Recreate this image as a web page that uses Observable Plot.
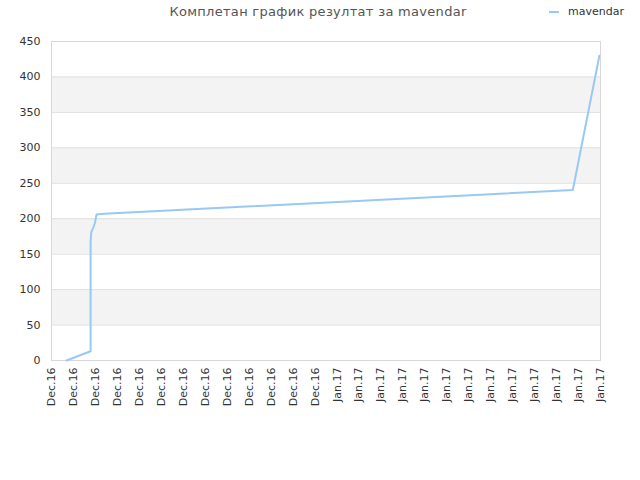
<!DOCTYPE html>
<html>
<head>
<meta charset="utf-8">
<script src="https://cdn.jsdelivr.net/npm/d3@7"></script>
<script src="https://cdn.jsdelivr.net/npm/@observablehq/plot@0.6"></script>
<style>
  html, body { margin: 0; padding: 0; background: #fff; }
  #wrap { position: relative; width: 640px; height: 480px; font-family: "DejaVu Sans", sans-serif; }
  #title { position: absolute; top: 4px; left: 0; width: 636px; text-align: center; font-size: 13px; color: #555; letter-spacing: 0.3px; }
  #legend { position: absolute; top: 5px; left: 549px; font-size: 11px; color: #333; display: flex; align-items: center; }
  #legend .sw { width: 10px; height: 2px; background: #99c8f5; margin-right: 9px; }
  #chart { position: absolute; top: 0; left: 0; }
</style>
</head>
<body>
<div id="wrap">
  <div id="chart"></div>
  <div id="title">Комплетан график резултат за mavendar</div>
  <div id="legend"><span class="sw"></span><span>mavendar</span></div>
</div>
<script>
const seriesName = "mavendar";
const xTickLabels = [
  "Dec.16","Dec.16","Dec.16","Dec.16","Dec.16","Dec.16","Dec.16","Dec.16","Dec.16","Dec.16","Dec.16","Dec.16","Dec.16",
  "Jan.17","Jan.17","Jan.17","Jan.17","Jan.17","Jan.17","Jan.17","Jan.17","Jan.17","Jan.17","Jan.17","Jan.17","Jan.17"
];
const yTicks = [0, 50, 100, 150, 200, 250, 300, 350, 400, 450];
// positions along the date axis (in tick units) and scores
const pointPos =    [0.68, 1.78, 1.78, 1.81, 1.90, 1.97, 2.05, 2.4, 23.74, 24.95];
const scoreValues = [0,    13,   167,  181,  187,  193,  206,  207, 240.5, 430];

const points = pointPos.map((p, i) => ({x: p, y: scoreValues[i]}));
const bands = yTicks.slice(0, -1).map((v, i) => ({y1: v, y2: yTicks[i + 1], shade: i % 2 === 1}))
  .filter(d => d.shade);

const plot = Plot.plot({
  width: 640,
  height: 480,
  marginTop: 41,
  marginLeft: 51,
  marginRight: 40,
  marginBottom: 120,
  style: {fontFamily: "DejaVu Sans, sans-serif", fontSize: "11px", color: "#333", background: "transparent"},
  x: {domain: [0, xTickLabels.length - 1], ticks: d3.range(xTickLabels.length), tickFormat: i => xTickLabels[i],
      tickRotate: -90, tickSize: 0, tickPadding: 7, label: null},
  y: {domain: [0, 450], ticks: yTicks, tickSize: 0, tickPadding: 11, label: null},
  marks: [
    Plot.rectY(bands, {x1: 0, x2: xTickLabels.length - 1, y1: "y1", y2: "y2", fill: "#f3f3f3"}),
    Plot.ruleY(yTicks, {stroke: "#e0e0e0", strokeWidth: 1}),
    Plot.frame({stroke: "#d8d8d8"}),
    Plot.axisX({ticks: d3.range(xTickLabels.length), tickFormat: i => xTickLabels[i], tickRotate: -90, tickSize: 0, tickPadding: 7, label: null}),
    Plot.axisY({ticks: yTicks, tickSize: 0, tickPadding: 11, label: null}),
    Plot.line(points, {x: "x", y: "y", stroke: "#99c8f5", strokeWidth: 2})
  ]
});
document.getElementById("chart").appendChild(plot);
</script>
</body>
</html>
